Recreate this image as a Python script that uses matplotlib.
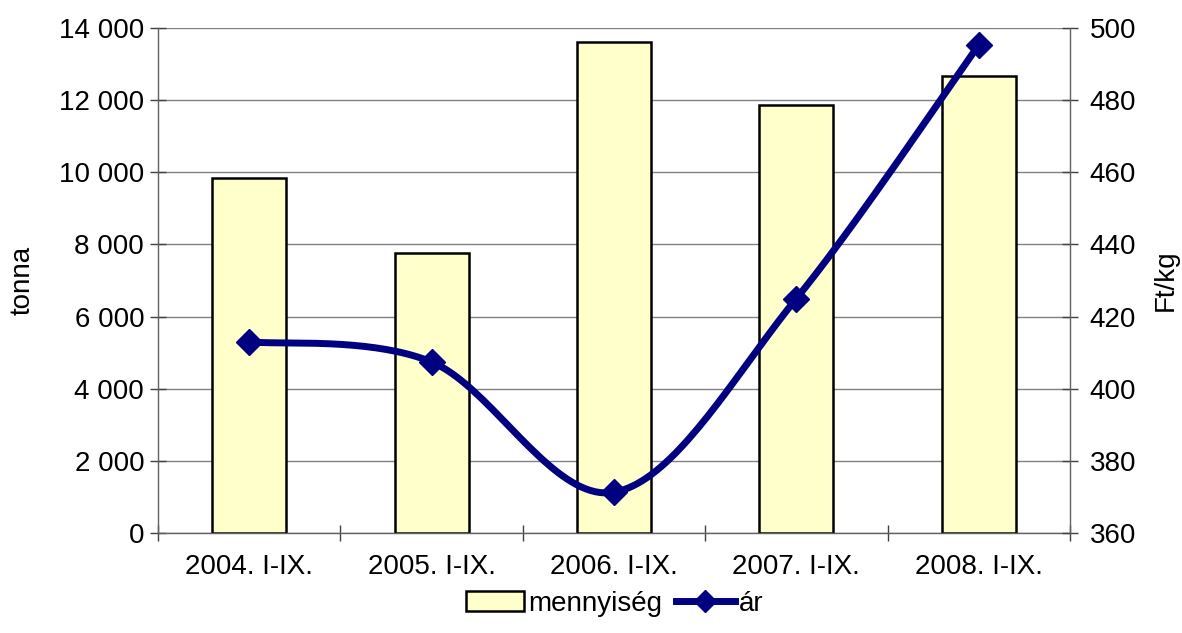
import matplotlib.pyplot as plt
import numpy as np
from matplotlib.ticker import FuncFormatter
from matplotlib.lines import Line2D
from matplotlib.patches import Patch

plt.rcParams['font.family'] = ['Liberation Sans', 'DejaVu Sans']

periods = ["2004. I-IX.", "2005. I-IX.", "2006. I-IX.", "2007. I-IX.", "2008. I-IX."]
quantity = [9840, 7760, 13610, 11870, 12670]   # tonna
price = [413, 407.4, 371.3, 425, 495.3]        # Ft/kg


def smooth(xs, ys, n=40):
    """Catmull-Rom style smoothing like Excel's smoothed line."""
    xs = np.asarray(xs, float)
    ys = np.asarray(ys, float)
    px = np.concatenate([[xs[0]], xs, [xs[-1]]])
    py = np.concatenate([[ys[0]], ys, [ys[-1]]])
    outx, outy = [], []
    t = np.linspace(0, 1, n)
    for i in range(1, len(px) - 2):
        p0 = np.array([px[i], py[i]])
        p3 = np.array([px[i + 1], py[i + 1]])
        c1 = p0 + (np.array([px[i + 1], py[i + 1]]) - np.array([px[i - 1], py[i - 1]])) / 6
        c2 = p3 - (np.array([px[i + 2], py[i + 2]]) - np.array([px[i], py[i]])) / 6
        b = (((1 - t) ** 3)[:, None] * p0 + (3 * (1 - t) ** 2 * t)[:, None] * c1
             + (3 * (1 - t) * t ** 2)[:, None] * c2 + (t ** 3)[:, None] * p3)
        outx.extend(b[:, 0])
        outy.extend(b[:, 1])
    return np.array(outx), np.array(outy)


FS = 20

fig = plt.figure(figsize=(11.82, 6.33), dpi=100)
ax = fig.add_axes([0.1337, 0.158, 0.7715, 0.7978])
ax2 = ax.twinx()

x = np.arange(len(periods))
ax.bar(x, quantity, width=0.405, color='#FFFFCC', edgecolor='black',
       linewidth=1.8, label='mennyiség', zorder=2)
ax.set_xlim(-0.5, len(periods) - 0.5)
ax.set_ylim(0, 14000)
ax.set_yticks(np.arange(0, 14001, 2000))
ax.yaxis.set_major_formatter(FuncFormatter(lambda v, p: '{:,.0f}'.format(v).replace(',', ' ')))
ax.yaxis.grid(True, color='#808080', linewidth=1, zorder=0)
ax.set_axisbelow(True)
ax.set_xticks(x)
ax.set_xticklabels(periods)
ax.set_xticks(np.arange(-0.5, len(periods)), minor=True)
ax.tick_params(axis='x', which='major', length=0, pad=15, labelsize=FS)
ax.tick_params(axis='x', which='minor', direction='inout', length=12, width=1, color='#404040')
ax.tick_params(axis='y', direction='inout', length=12, width=1, color='#404040', labelsize=FS, pad=4)
ax.set_ylabel('tonna', fontsize=FS, labelpad=17)

sx, sy = smooth(x, price)
ax2.plot(sx, sy, color='#000080', linewidth=5, zorder=3)
ax2.plot(x, price, linestyle='none', marker='D', markersize=13,
         color='#000080', zorder=4)
ax2.set_ylim(360, 500)
ax2.set_yticks(np.arange(360, 501, 20))
ax2.tick_params(axis='y', direction='inout', length=12, width=1, color='#404040', labelsize=FS, pad=8)
ax2.set_ylabel('Ft/kg', fontsize=FS, labelpad=12)

for a in (ax, ax2):
    a.spines['top'].set_visible(False)
    for s in ('left', 'right', 'bottom'):
        a.spines[s].set_color('#606060')
        a.spines[s].set_linewidth(1)
ax.spines['right'].set_visible(False)
ax2.spines['left'].set_visible(False)
ax2.spines['bottom'].set_visible(False)

handles = [Patch(facecolor='#FFFFCC', edgecolor='black', linewidth=1.8),
           Line2D([], [], color='#000080', linewidth=5, marker='D', markersize=11)]
fig.legend(handles, ['mennyiség', 'ár'], loc='lower center', bbox_to_anchor=(0.52, -0.014),
           ncol=2, frameon=False, fontsize=FS, handlelength=2.1, handletextpad=0.15,
           columnspacing=0.5)

fig.savefig('out.png', dpi=100)
